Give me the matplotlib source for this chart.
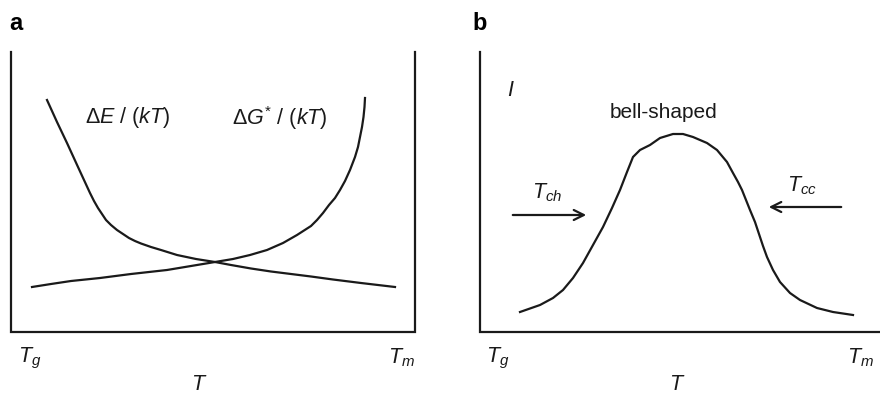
import matplotlib
matplotlib.use("Agg")
import matplotlib.pyplot as plt

plt.rcParams['font.family'] = ['Liberation Sans', 'DejaVu Sans']
plt.rcParams['mathtext.fontset'] = 'custom'
plt.rcParams['mathtext.rm'] = 'Liberation Sans'
plt.rcParams['mathtext.it'] = 'Liberation Sans:italic'
plt.rcParams['mathtext.bf'] = 'Liberation Sans:bold'

# panel a : activation terms vs temperature (schematic units)
dE_T = [36, 46, 56, 67, 79, 83, 87, 91, 95, 100, 106, 112, 118, 124, 130, 140, 150, 166, 185, 204,
        220, 240, 260, 280, 300, 322, 350, 384]
dE_v = [232, 210, 189, 165, 139, 131, 124, 118, 112, 107, 102, 98, 94, 91, 88.5, 85, 82, 77, 73, 70,
        67, 63.5, 60.5, 58, 55.5, 52.5, 49, 45]

dG_T = [21, 40, 60, 89, 120, 156, 180, 204, 222, 239, 256, 272, 286, 300, 306, 312, 318, 324, 329,
        334, 339, 344, 347, 349, 351, 352.5, 353.5, 354]
dG_v = [45, 48, 51, 54, 58, 62, 66, 70, 73, 77, 82, 89, 97, 106, 112, 119, 127, 134, 142,
        151, 162, 175, 185, 195, 205, 215, 225, 234]

# panel b : bell-shaped nucleation rate
I_T = [40, 60, 73, 83, 93, 103, 113, 123, 132, 140, 147, 153, 160, 170, 180, 193, 203, 213, 227,
       237, 247, 253, 258, 262, 266, 270, 275, 279, 283, 287, 293, 300, 310, 320, 337, 353, 373]
I_v = [20, 27, 34, 42, 54, 69, 87, 105, 124, 142, 160, 175, 182, 187, 194, 198, 198, 195, 189,
       182, 170, 159, 150, 142, 132, 122, 110, 98, 86, 75, 62, 50, 39, 32, 24, 20, 17]

fig = plt.figure(figsize=(8.8, 3.94), dpi=100)
W, H = 880, 394


def panel(left, width):
    # axes in pixel-like data units: x from the y-axis, y up from the T axis
    ax = fig.add_axes([left / W, (H - 332) / H, width / W, 280 / H])
    ax.set_xlim(0, width)
    ax.set_ylim(0, 280)
    ax.set_xticks([])
    ax.set_yticks([])
    for s in ax.spines.values():
        s.set_visible(False)
    return ax


lw = 1.6
col = '#1a1a1a'
fs = 15.5

# ---- a ----
axa = panel(11, 404)
axa.plot([0, 0, 404, 404], [280, 0, 0, 280], color=col, lw=lw, clip_on=False,
         solid_joinstyle='miter')
axa.plot(dE_T, dE_v, color=col, lw=lw)
axa.plot(dG_T, dG_v, color=col, lw=lw)
axa.text(117, 214, r'$\Delta E\ /\ (kT)$', fontsize=fs, ha='center', va='center', color=col)
axa.text(269, 214, r'$\Delta G^{*}\ /\ (kT)$', fontsize=fs, ha='center', va='center', color=col)
axa.text(19, -26, r'$T_g$', fontsize=fs, ha='center', va='center', color=col)
axa.text(390, -26, r'$T_m$', fontsize=fs, ha='center', va='center', color=col)
axa.text(188, -52, r'$T$', fontsize=fs, ha='center', va='center', color=col)
fig.text(9 / W, 1 - 23 / H, 'a', fontsize=17, fontweight='bold', ha='left', va='center')

# ---- b ----
axb = panel(480, 400)
axb.plot([0, 0, 400], [280, 0, 0], color=col, lw=lw, clip_on=False,
         solid_joinstyle='miter')
axb.plot(I_T, I_v, color=col, lw=lw)
axb.annotate('', xy=(109, 117), xytext=(30, 117),
             arrowprops=dict(arrowstyle='->', color=col, lw=lw, mutation_scale=18))
axb.annotate('', xy=(286, 125), xytext=(364, 125),
             arrowprops=dict(arrowstyle='->', color=col, lw=lw, mutation_scale=18))
axb.text(67, 139, r'$T_{ch}$', fontsize=fs, ha='center', va='center', color=col)
axb.text(322, 146, r'$T_{cc}$', fontsize=fs, ha='center', va='center', color=col)
axb.text(31, 241, r'$I$', fontsize=fs, ha='center', va='center', color=col)
axb.text(184, 220, 'bell-shaped', fontsize=15, ha='center', va='center', color=col)
axb.text(18, -26, r'$T_g$', fontsize=fs, ha='center', va='center', color=col)
axb.text(380, -26, r'$T_m$', fontsize=fs, ha='center', va='center', color=col)
axb.text(197, -52, r'$T$', fontsize=fs, ha='center', va='center', color=col)
fig.text(472 / W, 1 - 23 / H, 'b', fontsize=17, fontweight='bold', ha='left', va='center')

fig.savefig('out.png', dpi=100)
